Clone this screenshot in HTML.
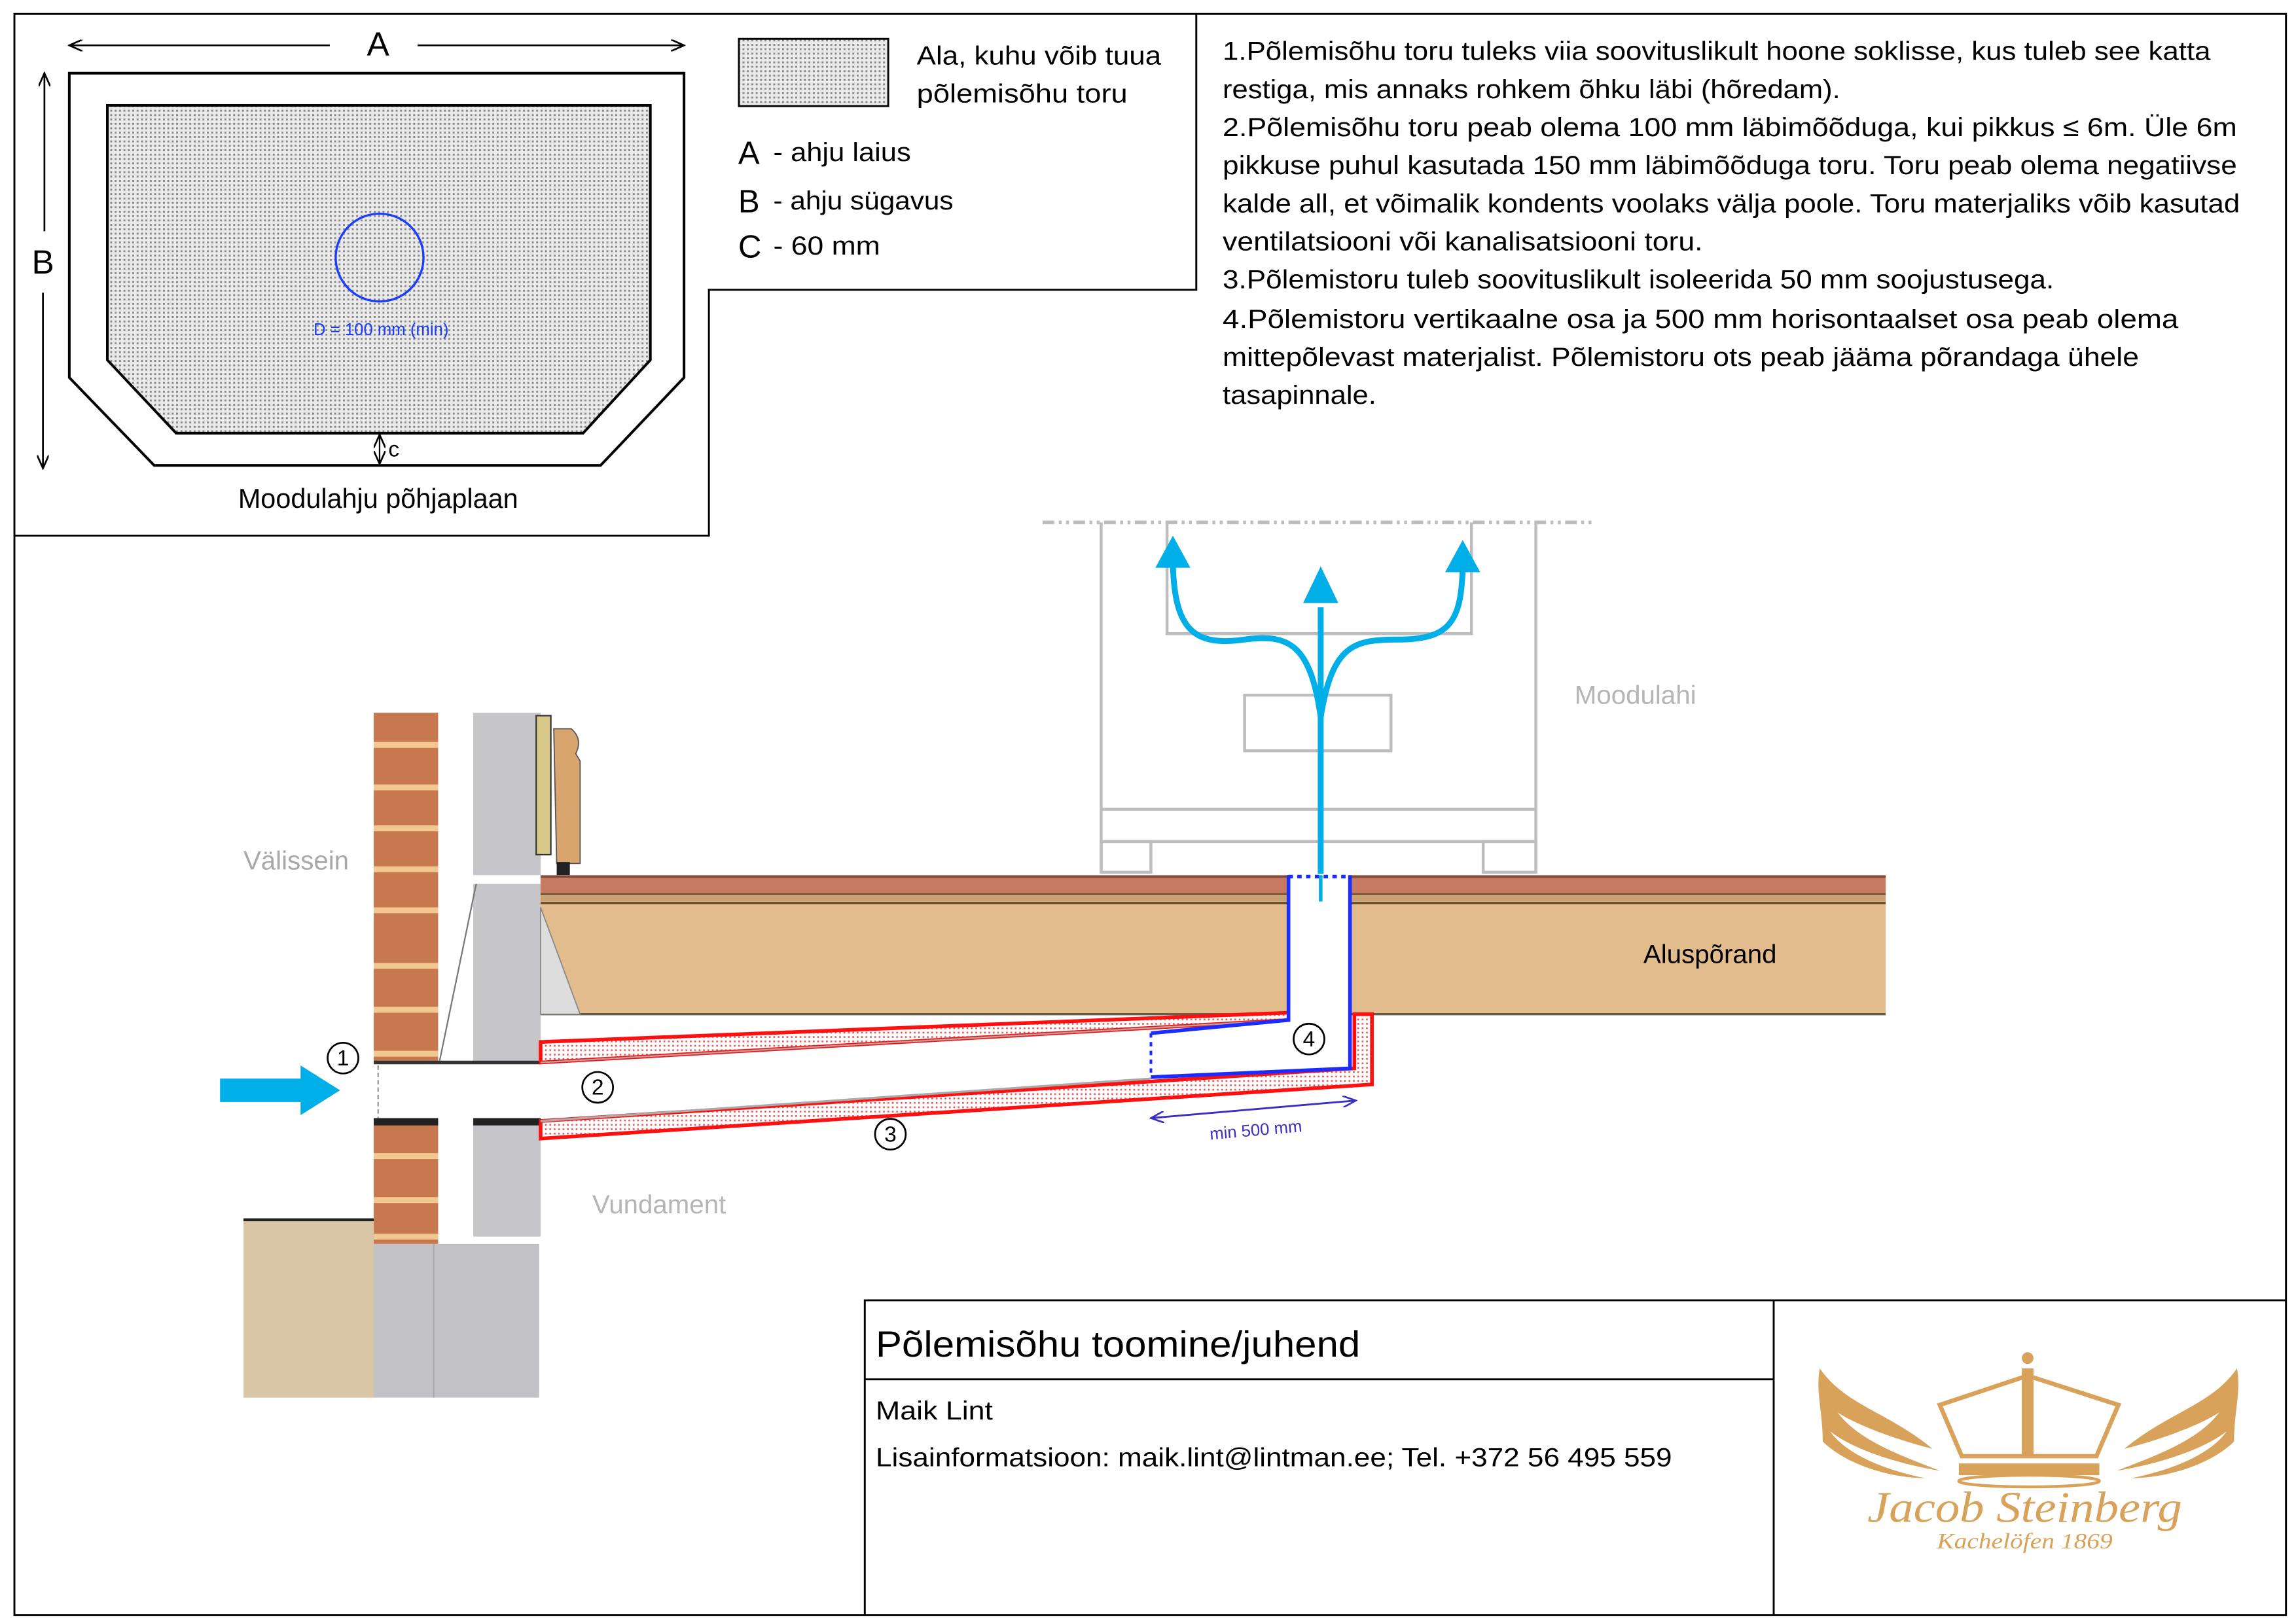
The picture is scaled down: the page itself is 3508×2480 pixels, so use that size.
<!DOCTYPE html>
<html><head><meta charset="utf-8"><style>
html,body{margin:0;padding:0;background:#fff}
svg{display:block}
text{font-family:"Liberation Sans",sans-serif}
</style></head><body>
<svg width="3508" height="2480" viewBox="0 0 1568 1109" xmlns="http://www.w3.org/2000/svg">
<defs>
<pattern id="dots" width="3" height="3" patternUnits="userSpaceOnUse"><rect width="3" height="3" fill="#eaeaea"/><rect width="1.3" height="1.3" fill="#888"/></pattern>
<pattern id="rdots" width="3" height="3" patternUnits="userSpaceOnUse"><rect width="3" height="3" fill="#fff"/><rect width="1.2" height="1.2" fill="#e06060"/></pattern>
<marker id="ah" markerWidth="10" markerHeight="8" refX="9" refY="4" orient="auto" markerUnits="userSpaceOnUse"><path d="M0,0 L9,4 L0,8" fill="none" stroke="#000" stroke-width="1.2"/></marker>
<marker id="ahb" markerWidth="10" markerHeight="8" refX="9" refY="4" orient="auto" markerUnits="userSpaceOnUse"><path d="M0,0 L9,4 L0,8" fill="none" stroke="#3a2fc0" stroke-width="1.2"/></marker>
</defs>
<rect x="0" y="0" width="1568" height="1109" fill="#fff"/>
<rect x="9.5" y="9.5" width="1552" height="1094" fill="none" stroke="#000" stroke-width="1.3"/>
<path d="M9,366 H484 V198 H817 V9" fill="none" stroke="#000" stroke-width="1.3"/>
<path d="M47,50 H467 V258 L410,318 H105 L47,258 Z" fill="#fff" stroke="#000" stroke-width="1.8"/>
<path d="M73,72 H444 V246 L398,296 H120 L73,246 Z" fill="url(#dots)" stroke="#000" stroke-width="1.8"/>
<circle cx="259" cy="176" r="30" fill="none" stroke="#1a3cff" stroke-width="1.5"/>
<text x="260" y="229" font-size="11.5" fill="#1a3cff" text-anchor="middle">D = 100 mm (min)</text>
<line x1="225" y1="31" x2="47" y2="31" stroke="#000" stroke-width="1.2" marker-end="url(#ah)"/>
<line x1="285" y1="31" x2="467" y2="31" stroke="#000" stroke-width="1.2" marker-end="url(#ah)"/>
<text x="258" y="38" font-size="23" text-anchor="middle">A</text>
<line x1="30" y1="158" x2="30" y2="50" stroke="#000" stroke-width="1.2" marker-end="url(#ah)"/>
<line x1="29" y1="200" x2="29" y2="320" stroke="#000" stroke-width="1.2" marker-end="url(#ah)"/>
<text x="29" y="187" font-size="23" text-anchor="middle">B</text>
<line x1="259" y1="306" x2="259" y2="297" stroke="#000" stroke-width="1" marker-end="url(#ah)"/>
<line x1="259" y1="306" x2="259" y2="317" stroke="#000" stroke-width="1" marker-end="url(#ah)"/>
<text x="265" y="312" font-size="15">c</text>
<text x="258" y="347" font-size="18.5" text-anchor="middle">Moodulahju põhjaplaan</text>
<rect x="504.5" y="26.5" width="102" height="46" fill="url(#dots)" stroke="#000" stroke-width="1.3"/>
<text x="626" y="44" font-size="18" textLength="167" lengthAdjust="spacingAndGlyphs">Ala, kuhu võib tuua</text>
<text x="626" y="70" font-size="18" textLength="144" lengthAdjust="spacingAndGlyphs">põlemisõhu toru</text>
<text x="504" y="112" font-size="22">A</text><text x="528" y="110" font-size="18" textLength="94" lengthAdjust="spacingAndGlyphs">- ahju laius</text>
<text x="504" y="145" font-size="22">B</text><text x="528" y="143" font-size="18" textLength="123" lengthAdjust="spacingAndGlyphs">- ahju sügavus</text>
<text x="504" y="176" font-size="22">C</text><text x="528" y="174" font-size="18" textLength="73" lengthAdjust="spacingAndGlyphs">- 60 mm</text>
<g font-size="18">
<text x="835" y="41" textLength="675" lengthAdjust="spacingAndGlyphs">1.Põlemisõhu toru tuleks viia soovituslikult hoone soklisse, kus tuleb see katta</text>
<text x="835" y="67" textLength="422" lengthAdjust="spacingAndGlyphs">restiga, mis annaks rohkem õhku läbi (hõredam).</text>
<text x="835" y="93" textLength="693" lengthAdjust="spacingAndGlyphs">2.Põlemisõhu toru peab olema 100 mm  läbimõõduga, kui pikkus ≤ 6m.  Üle  6m</text>
<text x="835" y="119" textLength="693" lengthAdjust="spacingAndGlyphs">pikkuse puhul kasutada 150 mm läbimõõduga toru. Toru peab olema  negatiivse</text>
<text x="835" y="145" textLength="695" lengthAdjust="spacingAndGlyphs">kalde all, et võimalik kondents voolaks välja poole. Toru materjaliks võib kasutad</text>
<text x="835" y="171" textLength="328" lengthAdjust="spacingAndGlyphs">ventilatsiooni või kanalisatsiooni toru.</text>
<text x="835" y="197" textLength="568" lengthAdjust="spacingAndGlyphs">3.Põlemistoru tuleb soovituslikult isoleerida 50 mm  soojustusega.</text>
<text x="835" y="224" textLength="653" lengthAdjust="spacingAndGlyphs">4.Põlemistoru vertikaalne osa ja 500 mm horisontaalset osa peab olema</text>
<text x="835" y="250" textLength="626" lengthAdjust="spacingAndGlyphs">mittepõlevast materjalist. Põlemistoru ots peab jääma põrandaga  ühele</text>
<text x="835" y="276" textLength="105" lengthAdjust="spacingAndGlyphs">tasapinnale.</text>
</g>
<g stroke="#bdbdbd" stroke-width="2" fill="none">
<line x1="712" y1="357" x2="1090" y2="357" stroke-dasharray="8,3,2,3,2,3" stroke-width="2.5"/>
<path d="M752,357 V596 M1049,357 V596 M752,553 H1049 M752,575 H1049"/>
<rect x="752" y="575" width="34" height="21"/>
<rect x="1013" y="575" width="36" height="21"/>
<path d="M797,357 V433 H1005 V357"/>
<rect x="850" y="475" width="100" height="38"/>
</g>
<text x="1117" y="481" font-size="18" fill="#b5b5b5" text-anchor="middle">Moodulahi</text>
<g stroke="#00aee8" fill="none" stroke-width="4">
<path d="M902,598 V415"/>
<path d="M902,490 C895,440 880,433 850,437 C815,442 802,430 801,385" />
<path d="M902,490 C910,440 925,437 955,437 C990,437 998,425 999,388"/>
</g>
<g fill="#00aee8">
<path d="M890,412 L902,387 L914,412 Z"/>
<path d="M789,388 L801,366 L813,388 Z"/>
<path d="M987,391 L999,369 L1011,391 Z"/>
</g>
<rect x="166" y="833" width="89" height="122" fill="#d9c6a6"/>
<line x1="166" y1="833.5" x2="255" y2="833.5" stroke="#222" stroke-width="2"/>
<rect x="255" y="850" width="113" height="105" fill="#c2c2c6"/>
<line x1="296" y1="850" x2="296" y2="955" stroke="#aaa" stroke-width="1"/>
<rect x="255" y="487" width="44" height="363" fill="#c8784e"/>
<g stroke="#f2c890" stroke-width="4">
<line x1="255" y1="509" x2="299" y2="509"/><line x1="255" y1="538" x2="299" y2="538"/><line x1="255" y1="566" x2="299" y2="566"/><line x1="255" y1="594" x2="299" y2="594"/><line x1="255" y1="622" x2="299" y2="622"/><line x1="255" y1="660" x2="299" y2="660"/><line x1="255" y1="690" x2="299" y2="690"/><line x1="255" y1="720" x2="299" y2="720"/><line x1="255" y1="790" x2="299" y2="790"/><line x1="255" y1="820" x2="299" y2="820"/><line x1="255" y1="845" x2="299" y2="845"/>
</g>
<rect x="323" y="487" width="46" height="358" fill="#c6c6ca"/>
<rect x="323" y="598" width="46" height="6" fill="#fff"/>
<rect x="366" y="489" width="10" height="95" fill="#d8c88a" stroke="#333" stroke-width="1"/>
<path d="M378,498 L390,498 Q398,505 393,515 L396,520 L396,590 L380,590 Z" fill="#d9a56e" stroke="#555" stroke-width="0.8"/>
<rect x="380" y="589" width="9" height="9" fill="#222"/>
<rect x="255" y="726" width="114" height="40" fill="#fff"/>
<line x1="255" y1="726" x2="369" y2="726" stroke="#333" stroke-width="2.5"/>
<rect x="255" y="764" width="44" height="5" fill="#222"/>
<rect x="323" y="764" width="46" height="5" fill="#222"/>
<line x1="258" y1="728" x2="258" y2="764" stroke="#999" stroke-width="1" stroke-dasharray="3,2"/>
<path d="M325,604 L300,725" stroke="#777" stroke-width="1" fill="none"/>
<rect x="369" y="598" width="919" height="95" fill="#e2bc8c"/>
<rect x="369" y="598" width="919" height="13" fill="#c87b62"/>
<line x1="369" y1="599" x2="1288" y2="599" stroke="#7a4a3a" stroke-width="1.5"/>
<line x1="369" y1="611" x2="1288" y2="611" stroke="#7a5a3a" stroke-width="1.5"/>
<rect x="369" y="612" width="919" height="4" fill="#c9a070"/>
<line x1="369" y1="617" x2="1288" y2="617" stroke="#6a4a2a" stroke-width="1.5"/>
<line x1="369" y1="693" x2="1288" y2="693" stroke="#6a5a4a" stroke-width="1.5"/>
<path d="M369,620 L396,693 H369 Z" fill="#ddd" stroke="#888" stroke-width="0.8"/>
<rect x="880" y="597" width="42" height="100" fill="#fff"/>
<path d="M369,712 L880,692 L880,697 L369,726 Z" fill="url(#rdots)" stroke="#ff1010" stroke-width="2.5"/>
<path d="M369,766 L925,730 L925,693 L937,693 L937,741 L369,778 Z" fill="url(#rdots)" stroke="#ff1010" stroke-width="2.5"/>
<path d="M369,726 L880,697" stroke="#aaa" stroke-width="1"/>
<path d="M369,766 L786,737" stroke="#aaa" stroke-width="1.5"/>
<path d="M786,706 L880,697 V598" fill="none" stroke="#1a2cff" stroke-width="2.5"/>
<path d="M786,736 L922,730 V598" fill="none" stroke="#1a2cff" stroke-width="2.5"/>
<line x1="880" y1="599" x2="922" y2="599" stroke="#1a2cff" stroke-width="2.5" stroke-dasharray="3,3"/>
<line x1="786" y1="706" x2="786" y2="736" stroke="#1a2cff" stroke-width="1.8" stroke-dasharray="3,3"/>
<line x1="902" y1="598" x2="902" y2="616" stroke="#00aee8" stroke-width="2.5"/>
<line x1="856" y1="758" x2="786" y2="764" stroke="#3a2fc0" stroke-width="1.3" marker-end="url(#ahb)"/>
<line x1="856" y1="758" x2="926" y2="752" stroke="#3a2fc0" stroke-width="1.3" marker-end="url(#ahb)"/>
<text x="858" y="776" font-size="11.5" fill="#3a2fc0" text-anchor="middle" transform="rotate(-5 858 776)">min 500 mm</text>
<path d="M150,737 H205 V728 L232,745 L205,762 V753 H150 Z" fill="#00aee8"/>
<g fill="none" stroke="#000" stroke-width="1.2">
<circle cx="234" cy="723" r="10.5"/><circle cx="408" cy="743" r="10.5"/><circle cx="608" cy="775" r="10.5"/><circle cx="894" cy="710" r="10.5"/>
</g>
<g font-size="15" text-anchor="middle">
<text x="234" y="728">1</text><text x="408" y="748">2</text><text x="608" y="780">3</text><text x="894" y="715">4</text>
</g>
<text x="202" y="594" font-size="18" fill="#a8a8a8" text-anchor="middle">Välissein</text>
<text x="450" y="829" font-size="18" fill="#b5b5b5" text-anchor="middle">Vundament</text>
<text x="1168" y="658" font-size="18" text-anchor="middle">Aluspõrand</text>
<path d="M590.5,1103 V888.5 H1561 M1211.5,888 V1103 M590,942.5 H1211" fill="none" stroke="#000" stroke-width="1.3"/>
<text x="598" y="927" font-size="25" textLength="331" lengthAdjust="spacingAndGlyphs">Põlemisõhu toomine/juhend</text>
<text x="598" y="970" font-size="18" textLength="80" lengthAdjust="spacingAndGlyphs">Maik Lint</text>
<text x="598" y="1002" font-size="18" textLength="544" lengthAdjust="spacingAndGlyphs">Lisainformatsioon: maik.lint@lintman.ee; Tel. +372 56 495 559</text>
<g fill="#d9a25a" stroke="none">
<path d="M1243,935 C1260,960 1290,965 1320,990 C1300,985 1270,975 1255,965 C1270,985 1300,995 1325,1005 C1295,1000 1265,990 1250,978 C1262,995 1290,1005 1315,1010 C1290,1010 1260,1000 1245,985 C1245,965 1240,950 1243,935 Z"/>
<path d="M1528,935 C1511,960 1481,965 1451,990 C1471,985 1501,975 1516,965 C1501,985 1471,995 1446,1005 C1476,1000 1506,990 1521,978 C1509,995 1481,1005 1456,1010 C1481,1010 1511,1000 1526,985 C1526,965 1531,950 1528,935 Z"/>
<path d="M1338,1000 H1434 V1008 H1338 Z"/>
<path d="M1340,995 L1325,960 L1385,940 L1447,960 L1432,995 Z" fill="none" stroke="#d9a25a" stroke-width="3"/>
<rect x="1381" y="935" width="8" height="60"/>
<circle cx="1385" cy="928" r="4"/>
<ellipse cx="1386" cy="1012" rx="48" ry="4" fill="none" stroke="#d9a25a" stroke-width="2"/>
</g>
<text x="1383" y="1040" font-size="30" font-style="italic" fill="#d9a25a" text-anchor="middle" textLength="215" lengthAdjust="spacingAndGlyphs" style="font-family:'Liberation Serif',serif">Jacob Steinberg</text>
<text x="1383" y="1058" font-size="15" font-style="italic" fill="#d9a25a" text-anchor="middle" textLength="120" lengthAdjust="spacingAndGlyphs" style="font-family:'Liberation Serif',serif">Kachelöfen 1869</text>
</svg>
</body></html>
